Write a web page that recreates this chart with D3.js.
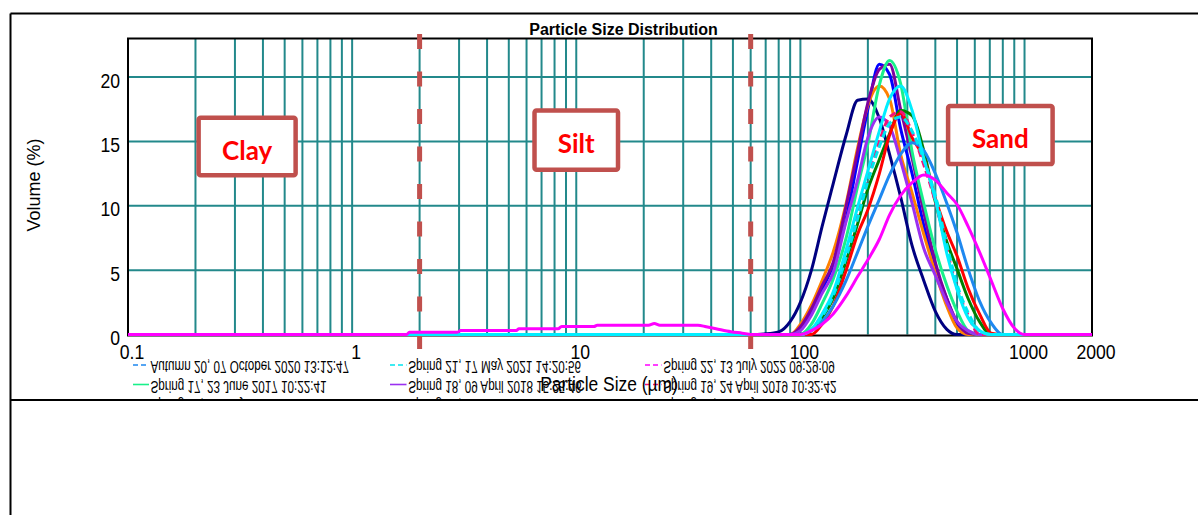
<!DOCTYPE html>
<html><head><meta charset="utf-8">
<script src="https://cdn.jsdelivr.net/npm/d3@7"></script>
<style>body{margin:0;background:#fff}svg{display:block}</style>
</head><body><svg id="chart" width="1198" height="515"></svg>
<script>
// ---------------- data ----------------
const chartTitle = "Particle Size Distribution";
const xAxisTitle = "Particle Size (µm)";
const yAxisTitle = "Volume (%)";
const xTickValues = [0.1, 1, 10, 100, 1000, 2000];
const xTickLabels = ["0.1", "1", "10", "100", "1000", "2000"];
const yTickValues = [0, 5, 10, 15, 20];
const zoneBoundaries = [2, 60];
const zoneLabels = ["Clay", "Silt", "Sand"];
const zoneLabelAnchors = [[0.34, 14.6], [10, 15.1], [780, 15.5]];

// shared size grid (µm) for the sand peaks
const sizeGrid = [60,70,80,90,100,112,125,140,160,180,200,225,250,280,315,355,400,450,500,560,630,710,800,900,1000];

const spring16 = [0,0.05,0.2,1.0,2.5,5.0,8.4,11.7,15.5,18.2,18.3,16.8,14.0,10.7,6.9,4.2,1.8,0.4,0,0,0,0,0,0,0];
const spring14 = [0,0,0,0,0.5,1.8,3.5,5.4,9.0,13.5,17.5,21.0,20.2,16.0,12.5,8.5,5.2,2.8,0.8,0,0,0,0,0,0];
const spring15 = [0,0,0,0,0.8,2.3,4.2,6.4,10.2,14.5,17.8,19.3,18.3,14.0,11.0,7.8,4.8,2.2,0.5,0,0,0,0,0,0];
const sample10 = [0,0,0,0,0.6,2.0,3.8,5.6,10.0,14.2,18.0,20.6,21.0,17.5,13.7,9.5,5.6,2.8,1.0,0.1,0,0,0,0,0];
const spring17 = [0,0,0,0,0,0.8,2.4,4.3,7.5,11.5,14.8,19.4,21.3,19.5,14.2,10.2,6.6,3.8,1.8,0.3,0,0,0,0,0];
const spring18 = [0,0,0,0,0.3,1.5,3.2,4.8,8.8,12.0,15.3,16.9,16.2,13.5,10.2,6.7,4.6,2.5,1.0,0.3,0,0,0,0,0];
const sample11 = [0,0,0,0,0,0.3,1.3,2.8,5.7,8.6,11.3,13.6,15.6,17.4,17.0,14.3,10.3,7.2,5.1,2.8,1.0,0,0,0,0];
const sample12 = [0,0,0,0,0,0,0.8,2.2,5.0,7.8,9.7,12.5,15.5,17.2,15.3,13.7,10.6,8.0,6.1,3.6,1.6,0.1,0,0,0];
const spring19 = [0,0,0,0,0,0.4,1.5,3.1,6.3,9.3,12.2,15.0,16.9,17.3,15.7,13.2,10.3,6.6,3.6,1.5,0,0,0,0,0];
const autumn20 = [0,0,0,0,0,0.3,1.0,2.2,4.2,6.4,8.4,10.5,12.4,14.0,14.9,14.3,12.5,10.2,7.9,5.1,2.6,0.9,0,0,0];
const spring21 = [0,0,0,0,0,0.4,1.4,3.0,6.0,9.0,11.9,14.6,16.4,16.9,15.8,13.6,10.8,7.0,3.9,1.7,0.3,0,0,0,0];
const sample13 = [0,0,0,0,0,0.4,1.6,3.3,6.6,9.9,12.7,15.8,18.3,19.3,17.4,13.7,10.5,6.3,3.5,1.3,0.3,0,0,0,0];
const spring22 = [0,0,0,0,0,0.3,0.8,1.6,3.0,4.5,5.8,7.4,9.3,10.8,11.8,12.4,12.0,11.0,10.1,8.4,6.4,4.2,2.0,0.5,0];
// silt tail of Spring 22
const spring22SiltSizes = [1.75,1.8,2.95,3.05,5.4,5.55,8.3,8.6,12,12.4,21,22.3,23.6,34.9,38,42,49,55,59];
const spring22SiltVolumes = [0,0.18,0.18,0.31,0.31,0.44,0.44,0.62,0.62,0.72,0.72,0.85,0.72,0.72,0.6,0.45,0.22,0.1,0.02];

const seriesNames = [
  "Spring 16, 16 May 2016 14:01:26", "Spring 14, 10 June 2014 16:01:41", "Spring 15, 21 July 2015 11:04:49",
  "Sample 10", "Spring 17, 23 June 2017 10:22:41", "Spring 18, 09 April 2018 15:25:46",
  "Sample 11", "Sample 12", "Spring 19, 24 April 2019 10:32:42",
  "Autumn 20, 07 October 2020 13:12:47", "Spring 21, 17 May 2021 14:20:56", "Sample 13",
  "Spring 22, 13 July 2022 09:29:09"
];
const seriesValues = [spring16, spring14, spring15, sample10, spring17, spring18, sample11, sample12, spring19, autumn20, spring21, sample13, spring22];
const legendOrder = [9, 10, 12, 4, 5, 8, 0, 1, 2];

// ---------------- styles ----------------
const seriesColors = ["#000080","#0000ff","#ff8000","#7f00a0","#19f08a","#9b30f0","#008000","#ff0000","#f0147a","#1e88f0","#00e5ee","#00eeff","#ff00ff"];
const seriesDash = [null,null,null,null,null,null,null,null,"7,4",null,"7,4",null,null];
const legendDash = [null,null,null,null,null,null,null,null,"5,3","5,3","5,3",null,"5,3"];
const gridColor = "#23898b";
const zoneColor = "#c0504d";

// ---------------- drawing ----------------
const svg = d3.select("#chart");
svg.append("rect").attr("width",1198).attr("height",515).attr("fill","#fff");

const L = 128, R = 1092, T = 38.5, B = 334.5;
const x = d3.scaleLog().domain([0.1, 2000]).range([L, R]);
const y = d3.scaleLinear().domain([0, 23]).range([B, T]);

// outer frame
const frame = svg.append("g").attr("stroke","#000").attr("stroke-width",2);
frame.append("line").attr("x1",10.5).attr("x2",1198).attr("y1",13.5).attr("y2",13.5);
frame.append("line").attr("x1",10.5).attr("x2",10.5).attr("y1",13.5).attr("y2",515);

// title
svg.append("text").attr("x",623.5).attr("y",34.5).attr("text-anchor","middle")
  .attr("font-family","Liberation Sans, Arial, sans-serif").attr("font-weight","bold").attr("font-size",16)
  .text(chartTitle);

// grid
const grid = svg.append("g").attr("stroke",gridColor).attr("stroke-width",2);
grid.selectAll("line.v").data(x.ticks().filter(d => d > 0.1 && d < 2000)).join("line")
  .attr("x1",d=>x(d)).attr("x2",d=>x(d)).attr("y1",T).attr("y2",B);
grid.selectAll("line.h").data(yTickValues.filter(d=>d>0)).join("line").attr("class","h")
  .attr("x1",L).attr("x2",R).attr("y1",d=>y(d)).attr("y2",d=>y(d));

// plot border
svg.append("rect").attr("x",L).attr("y",T).attr("width",R-L).attr("height",B-T+1)
  .attr("fill","none").attr("stroke","#000").attr("stroke-width",2);

// zone boundaries
svg.append("g").selectAll("line").data(zoneBoundaries).join("line")
  .attr("x1",d=>x(d)).attr("x2",d=>x(d)).attr("y1",34).attr("y2",349)
  .attr("stroke",zoneColor).attr("stroke-width",5).attr("stroke-dasharray","15,22.5");

// zone label boxes
const boxSizes = [[97,57.5],[83.5,59.3],[104.5,58.2]];
const zones = svg.append("g");
zoneLabels.forEach((lab,i)=>{
  const cx = x(zoneLabelAnchors[i][0]), cy = y(zoneLabelAnchors[i][1]);
  const [w,h] = boxSizes[i];
  zones.append("rect").attr("x",cx-w/2).attr("y",cy-h/2).attr("width",w).attr("height",h).attr("rx",2)
    .attr("fill","#fff").attr("stroke",zoneColor).attr("stroke-width",4.5);
  zones.append("text").attr("x",cx).attr("y",cy+13).attr("text-anchor","middle")
    .attr("font-family","Lato, 'Open Sans', sans-serif").attr("font-weight","bold").attr("font-size",26)
    .attr("fill","#ff0000").text(lab);
});

// curves
const line = d3.line().x(d=>x(d[0])).y(d=>y(d[1])).curve(d3.curveMonotoneX);
const curves = svg.append("g").attr("fill","none").attr("stroke-width",3).attr("stroke-linejoin","round");
seriesValues.forEach((vals,i)=>{
  let pts = [[0.1,0]];
  if (vals === spring22) spring22SiltSizes.forEach((s,k)=>pts.push([s, spring22SiltVolumes[k]]));
  sizeGrid.forEach((s,k)=>pts.push([s, vals[k]]));
  pts.push([2000,0]);
  curves.append("path").attr("d", line(pts)).attr("stroke", seriesColors[i])
    .attr("stroke-dasharray", seriesDash[i]);
});

// y axis
const font = "Liberation Sans, Arial, sans-serif";
svg.append("g").attr("transform",`translate(${L},0)`)
  .call(d3.axisLeft(y).tickValues(yTickValues).tickSize(0).tickPadding(0))
  .call(g=>g.select(".domain").remove())
  .selectAll("text").attr("x",null).attr("dy",null)
  .attr("transform","translate(-8,10) scale(0.86,1)").attr("text-anchor","end")
  .attr("font-size",20.5).attr("font-family",font).attr("fill","#000");

// x axis
svg.append("g").attr("transform",`translate(0,${B})`)
  .call(d3.axisBottom(x).tickValues(xTickValues).tickFormat((d,i)=>xTickLabels[i]).tickSize(0).tickPadding(0))
  .call(g=>g.select(".domain").remove())
  .selectAll("text").attr("y",null).attr("dy",null)
  .attr("transform","translate(3.5,24.8) scale(0.86,1)").attr("text-anchor","middle")
  .attr("font-size",20.5).attr("font-family",font).attr("fill","#000");

// y title
svg.append("text").attr("transform","translate(39.5,185) rotate(-90)").attr("text-anchor","middle")
  .attr("font-family",font).attr("font-size",18).text(yAxisTitle);

// legend (mirrored, clipped)
svg.append("clipPath").attr("id","legclip").append("rect").attr("x",0).attr("y",340).attr("width",1198).attr("height",59);
const leg = svg.append("g").attr("clip-path","url(#legclip)");
const colText = [150.5, 408.3, 663.3], colLine = [[133,149],[390,406.5],[645,661.5]], rowBase = [361, 380.5, 400];
legendOrder.forEach((si,k)=>{
  const c = k % 3, r = Math.floor(k/3);
  leg.append("line").attr("x1",colLine[c][0]).attr("x2",colLine[c][1]).attr("y1",rowBase[r]+4).attr("y2",rowBase[r]+4)
    .attr("stroke",seriesColors[si]).attr("stroke-width",1.6).attr("stroke-dasharray",legendDash[si]);
  leg.append("text").attr("transform",`translate(${colText[c]},${rowBase[r]}) scale(0.73,-1)`)
    .attr("font-family",font).attr("font-size",16).attr("fill","#000").text(seriesNames[si]);
});

// x title
svg.append("text").attr("transform","translate(609,391) scale(0.87,1)").attr("text-anchor","middle")
  .attr("font-family",font).attr("font-size",20).text(xAxisTitle);

// separator
svg.append("line").attr("x1",10.5).attr("x2",1198).attr("y1",400).attr("y2",400).attr("stroke","#000").attr("stroke-width",2);
</script></body></html>
